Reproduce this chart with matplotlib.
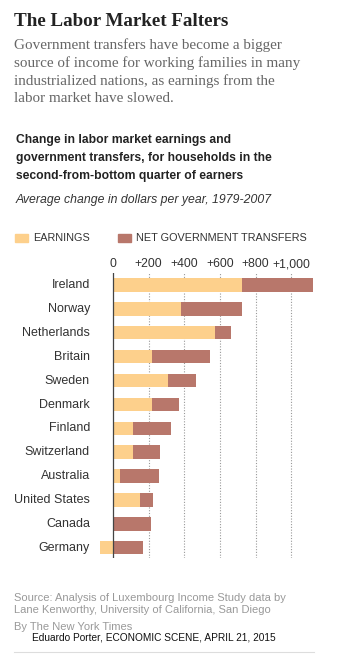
import matplotlib
matplotlib.use("Agg")
import matplotlib.pyplot as plt

countries = ["Ireland", "Norway", "Netherlands", "Britain", "Sweden", "Denmark",
             "Finland", "Switzerland", "Australia", "United States", "Canada", "Germany"]
earnings = [726, 382, 573, 219, 307, 217, 112, 114, 37, 153, 0, -73]
transfers = [394, 341, 90, 326, 157, 156, 212, 148, 223, 70, 215, 167]
tick_values = [0, 200, 400, 600, 800, 1000]
tick_labels = ["0", "+200", "+400", "+600", "+800", "+1,000"]

EARN = "#fdd08c"
TRANS = "#b8776b"

W, H = 339, 655
fig = plt.figure(figsize=(W / 100, H / 100), dpi=100)


def px(x, y):
    return x / W, 1 - y / H


# axes placed in pixel terms: zero line at x=113, 200 units ~ 35.65 px
scale = 35.65 / 200
ax_l, ax_r, ax_t, ax_b = 98, 320, 273, 558
ax = fig.add_axes([ax_l / W, 1 - ax_b / H, (ax_r - ax_l) / W, (ax_b - ax_t) / H])
ax.set_xlim(-(113 - ax_l) / scale, (ax_r - 113) / scale)
row = 23.9
ax.set_ylim(11 + (ax_b - 547.7) / row, -(285 - ax_t) / row)

for v in tick_values[1:]:
    ax.axvline(v, color="#999999", lw=0.8, ls=(0, (1, 1.5)), zorder=0)
ax.axvline(0, color="#444444", lw=0.9, zorder=3)

ys = list(range(len(countries)))
ax.barh(ys, earnings, height=0.56, color=EARN, edgecolor="none", zorder=2)
starts = [max(e, 0) for e in earnings]
ax.barh(ys, transfers, left=starts, height=0.56, color=TRANS, edgecolor="none", zorder=2)

ax.set_xticks(tick_values)
ax.set_xticklabels(tick_labels)
ax.xaxis.tick_top()
ax.tick_params(axis="x", length=0, pad=2, labelsize=8.7, labelcolor="#333333")
for lab in ax.get_xticklabels():
    lab.set_family("Liberation Sans")
ax.set_yticks([])
for s in ax.spines.values():
    s.set_visible(False)

for i, c in enumerate(countries):
    fig.text(*px(90, 285 + row * i), c, ha="right", va="center",
             fontsize=9.0, family="Liberation Sans", color="#333333")

# headline and intro
fig.text(*px(14, 22), "The Labor Market Falters", fontsize=13.7, weight="bold",
         family="Liberation Serif", color="#222222", va="center")
intro = ["Government transfers have become a bigger",
         "source of income for working families in many",
         "industrialized nations, as earnings from the",
         "labor market have slowed."]
for i, line in enumerate(intro):
    fig.text(*px(14, 45 + 18 * i), line, fontsize=10.9, family="Liberation Serif",
             color="#666666", va="center")

heading = ["Change in labor market earnings and",
           "government transfers, for households in the",
           "second-from-bottom quarter of earners"]
for i, line in enumerate(heading):
    fig.text(*px(16, 140 + 18 * i), line, fontsize=8.7, weight="bold",
             family="Liberation Sans", color="#222222", va="center")
fig.text(*px(16, 200), "Average change in dollars per year, 1979-2007", fontsize=8.8,
         style="italic", family="Liberation Sans", color="#333333", va="center")

# legend
for x0, label, col in [(15, "EARNINGS", EARN), (118, "NET GOVERNMENT TRANSFERS", TRANS)]:
    fig.patches.append(plt.Rectangle(px(x0, 242), 13 / W, 8.5 / H, color=col,
                                     transform=fig.transFigure, figure=fig))
    fig.text(*px(x0 + 18, 238), label, fontsize=7.8, family="Liberation Sans",
             color="#333333", va="center")

# footer
fig.text(*px(14, 598), "Source: Analysis of Luxembourg Income Study data by",
         fontsize=8, family="Liberation Sans", color="#999999", va="center")
fig.text(*px(14, 610), "Lane Kenworthy, University of California, San Diego",
         fontsize=8, family="Liberation Sans", color="#999999", va="center")
fig.text(*px(14, 627), "By The New York Times", fontsize=8,
         family="Liberation Sans", color="#999999", va="center")
fig.text(*px(32, 638), "Eduardo Porter, ECONOMIC SCENE, APRIL 21, 2015", fontsize=7.3,
         family="Liberation Sans", color="#111111", va="center")
fig.add_artist(plt.Line2D([14 / W, 314 / W], [1 - 652 / H] * 2, color="#dddddd",
                          lw=0.8, transform=fig.transFigure))

fig.savefig("out.png", dpi=100)
